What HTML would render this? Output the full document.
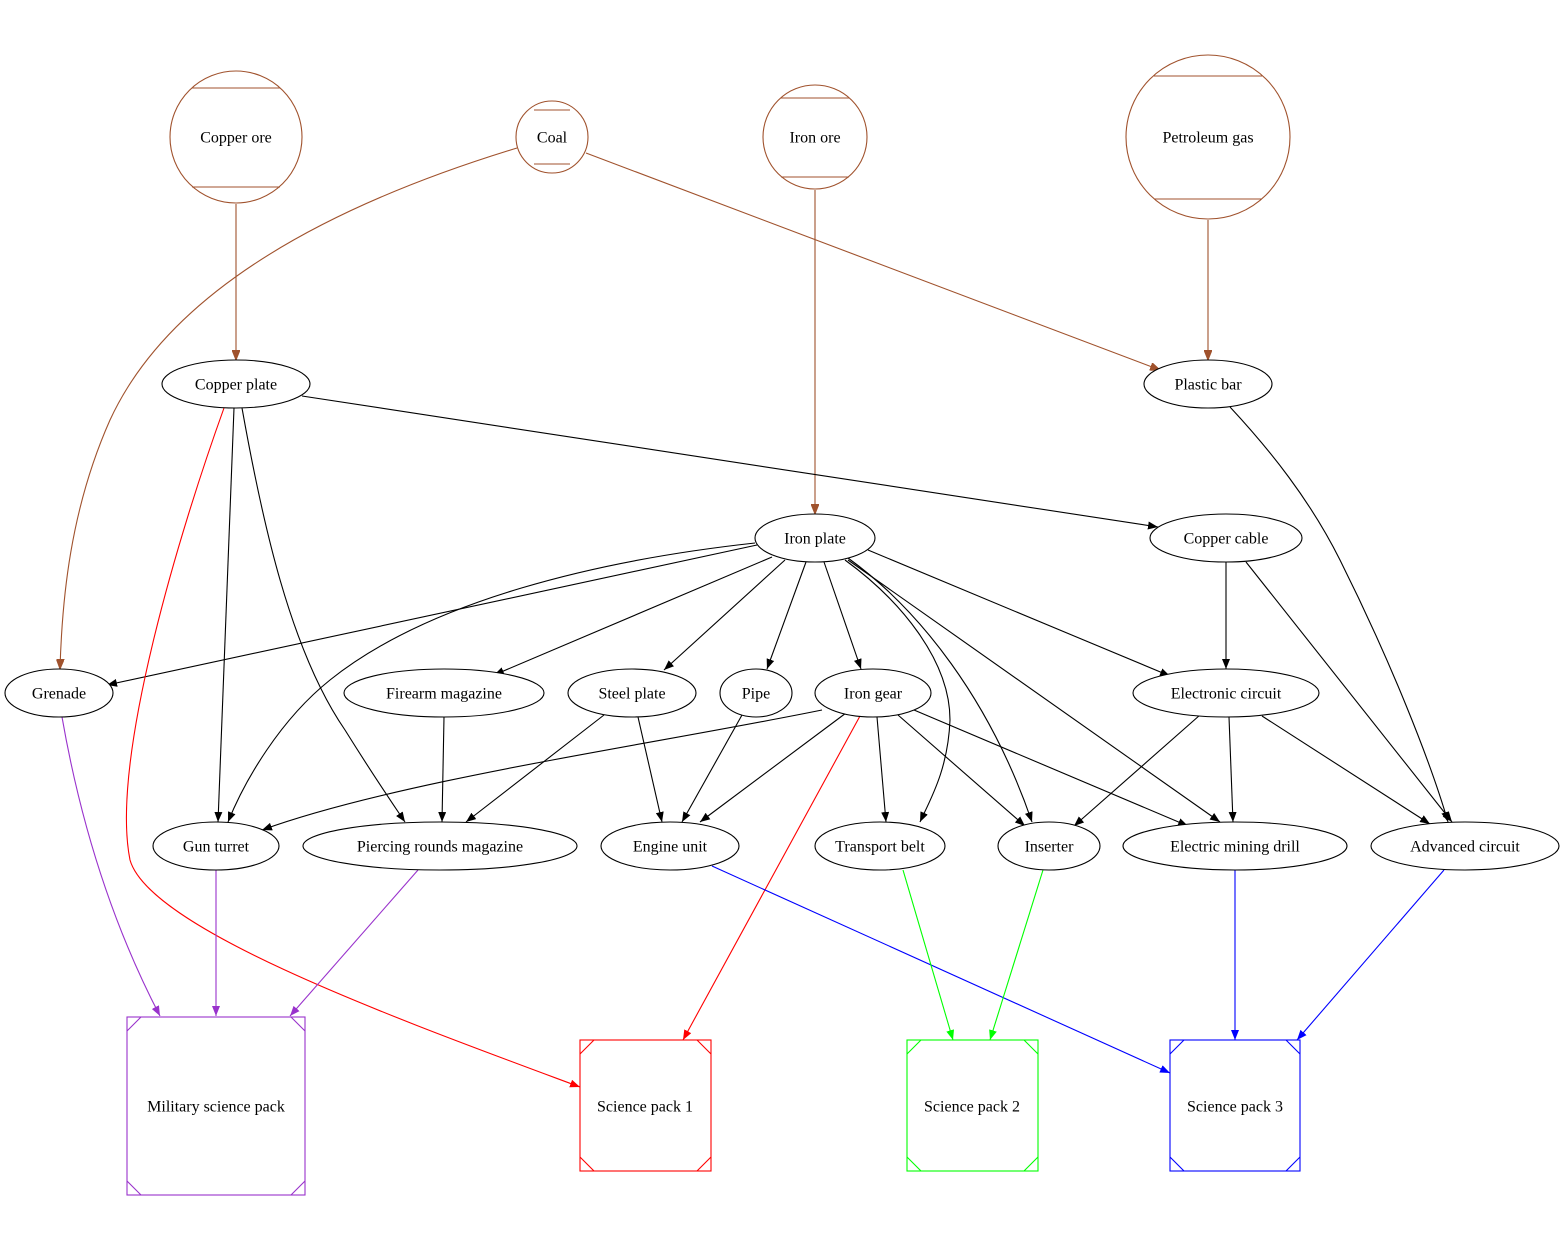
<!DOCTYPE html>
<html><head><meta charset="utf-8"><style>
html,body{margin:0;padding:0;background:#fff;}
svg{display:block;}
text{font-family:"Liberation Serif",serif;font-size:16px;text-anchor:middle;dominant-baseline:central;fill:#000;}
</style></head><body>
<svg width="1566" height="1255" viewBox="0 0 1566 1255" xmlns="http://www.w3.org/2000/svg">
<defs>
<marker id="ak" markerWidth="11" markerHeight="8" refX="10" refY="4" orient="auto" markerUnits="userSpaceOnUse"><path d="M0,0 L10,4 L0,8 z" fill="#000"/></marker>
<marker id="ab" markerWidth="11" markerHeight="8" refX="10" refY="4" orient="auto" markerUnits="userSpaceOnUse"><path d="M0,0 L10,4 L0,8 z" fill="#a0522d" stroke="#a0522d"/></marker>
<marker id="ar" markerWidth="11" markerHeight="8" refX="10" refY="4" orient="auto" markerUnits="userSpaceOnUse"><path d="M0,0 L10,4 L0,8 z" fill="#f00"/></marker>
<marker id="ap" markerWidth="11" markerHeight="8" refX="10" refY="4" orient="auto" markerUnits="userSpaceOnUse"><path d="M0,0 L10,4 L0,8 z" fill="#9932cc"/></marker>
<marker id="au" markerWidth="11" markerHeight="8" refX="10" refY="4" orient="auto" markerUnits="userSpaceOnUse"><path d="M0,0 L10,4 L0,8 z" fill="#00f"/></marker>
<marker id="ag" markerWidth="11" markerHeight="8" refX="10" refY="4" orient="auto" markerUnits="userSpaceOnUse"><path d="M0,0 L10,4 L0,8 z" fill="#0f0"/></marker>
</defs>
<g fill="none" stroke-width="1.1">
<g stroke="#a0522d" marker-end="url(#ab)">
<path d="M236,204 L236,360"/>
<path d="M517,148 C330,205 170,290 110,420 C70,510 62,600 60,669"/>
<path d="M586,153 L1160,370"/>
<path d="M815,190 L815,514"/>
<path d="M1208,220 L1208,360"/>
</g>
<g stroke="#000" marker-end="url(#ak)">
<path d="M302,396 L1158,527"/>
<path d="M234,408 L218,822"/>
<path d="M242,408 C262,520 290,650 345,730 C370,770 390,800 405,822"/>
<path d="M1230,407 C1270,450 1310,500 1340,560 C1390,660 1430,760 1448,822"/>
<path d="M757,545 L107,685"/>
<path d="M755,543 C600,560 430,600 330,680 C280,720 245,780 228,822"/>
<path d="M772,557 L494,675"/>
<path d="M785,560 L664,670"/>
<path d="M806,562 L767,669"/>
<path d="M824,562 L861,669"/>
<path d="M845,560 C900,600 950,660 950,720 C948,770 930,800 920,822"/>
<path d="M848,558 C920,610 990,700 1032,822"/>
<path d="M848,560 L1220,822"/>
<path d="M868,550 L1170,676"/>
<path d="M1226,562 L1226,669"/>
<path d="M1246,562 L1452,822"/>
<path d="M444,717 L442,822"/>
<path d="M604,715 L466,822"/>
<path d="M638,717 L662,822"/>
<path d="M742,715 L682,822"/>
<path d="M822,710 C650,745 400,780 262,830"/>
<path d="M846,713 L700,822"/>
<path d="M877,717 L886,822"/>
<path d="M898,715 L1025,826"/>
<path d="M914,710 L1188,826"/>
<path d="M1200,715 L1074,826"/>
<path d="M1229,717 L1233,822"/>
<path d="M1262,716 L1430,824"/>
</g>
<g stroke="#f00" marker-end="url(#ar)">
<path d="M224,408 C180,530 110,760 130,860 C150,930 400,1020 580,1087"/>
<path d="M860,716 L683,1040"/>
</g>
<g stroke="#9932cc" marker-end="url(#ap)">
<path d="M62,717 C80,820 110,920 160,1016"/>
<path d="M216,870 L216,1016"/>
<path d="M418,870 L290,1016"/>
</g>
<g stroke="#00f" marker-end="url(#au)">
<path d="M712,866 L1170,1073"/>
<path d="M1235,870 L1235,1040"/>
<path d="M1444,870 L1297,1040"/>
</g>
<g stroke="#0f0" marker-end="url(#ag)">
<path d="M903,870 L953,1040"/>
<path d="M1043,870 L990,1040"/>
</g>
</g>

<g fill="#fff" stroke="#a0522d" stroke-width="1.1">
<circle cx="236" cy="137" r="66"/>
<line x1="192" y1="88" x2="280" y2="88"/><line x1="192" y1="187" x2="280" y2="187"/>
<circle cx="552" cy="137" r="36"/>
<line x1="534" y1="110" x2="570" y2="110"/><line x1="534" y1="164" x2="570" y2="164"/>
<circle cx="815" cy="137" r="52"/>
<line x1="781" y1="98" x2="849" y2="98"/><line x1="781" y1="177" x2="849" y2="177"/>
<circle cx="1208" cy="137" r="82"/>
<line x1="1154" y1="76" x2="1262" y2="76"/><line x1="1154" y1="199" x2="1262" y2="199"/>
</g>
<text x="236" y="138">Copper ore</text>
<text x="552" y="138">Coal</text>
<text x="815" y="138">Iron ore</text>
<text x="1208" y="138">Petroleum gas</text>

<g fill="#fff" stroke="#000" stroke-width="1.1">
<ellipse cx="236" cy="384" rx="74" ry="24"/>
<ellipse cx="1208" cy="384" rx="64" ry="24"/>
<ellipse cx="815" cy="538" rx="60" ry="24"/>
<ellipse cx="1226" cy="538" rx="76" ry="24"/>
<ellipse cx="59" cy="693" rx="54" ry="24"/>
<ellipse cx="444" cy="693" rx="100" ry="24"/>
<ellipse cx="632" cy="693" rx="64" ry="24"/>
<ellipse cx="756" cy="693" rx="36" ry="24"/>
<ellipse cx="873" cy="693" rx="58" ry="24"/>
<ellipse cx="1226" cy="693" rx="93" ry="24"/>
<ellipse cx="216" cy="846" rx="63" ry="24"/>
<ellipse cx="440" cy="846" rx="137" ry="24"/>
<ellipse cx="670" cy="846" rx="69" ry="24"/>
<ellipse cx="880" cy="846" rx="65" ry="24"/>
<ellipse cx="1049" cy="846" rx="51" ry="24"/>
<ellipse cx="1235" cy="846" rx="112" ry="24"/>
<ellipse cx="1465" cy="846" rx="94" ry="24"/>
</g>
<text x="236" y="385">Copper plate</text>
<text x="1208" y="385">Plastic bar</text>
<text x="815" y="539">Iron plate</text>
<text x="1226" y="539">Copper cable</text>
<text x="59" y="694">Grenade</text>
<text x="444" y="694">Firearm magazine</text>
<text x="632" y="694">Steel plate</text>
<text x="756" y="694">Pipe</text>
<text x="873" y="694">Iron gear</text>
<text x="1226" y="694">Electronic circuit</text>
<text x="216" y="847">Gun turret</text>
<text x="440" y="847">Piercing rounds magazine</text>
<text x="670" y="847">Engine unit</text>
<text x="880" y="847">Transport belt</text>
<text x="1049" y="847">Inserter</text>
<text x="1235" y="847">Electric mining drill</text>
<text x="1465" y="847">Advanced circuit</text>

<g fill="#fff" stroke-width="1.1">
<g stroke="#9932cc">
<rect x="127" y="1017" width="178" height="178"/>
<path d="M127,1031 L141,1017 M291,1017 L305,1031 M127,1181 L141,1195 M291,1195 L305,1181"/>
</g>
<g stroke="#f00">
<rect x="580" y="1040" width="131" height="131"/>
<path d="M580,1054 L594,1040 M697,1040 L711,1054 M580,1157 L594,1171 M697,1171 L711,1157"/>
</g>
<g stroke="#0f0">
<rect x="907" y="1040" width="131" height="131"/>
<path d="M907,1054 L921,1040 M1024,1040 L1038,1054 M907,1157 L921,1171 M1024,1171 L1038,1157"/>
</g>
<g stroke="#00f">
<rect x="1170" y="1040" width="130" height="131"/>
<path d="M1170,1054 L1184,1040 M1286,1040 L1300,1054 M1170,1157 L1184,1171 M1286,1171 L1300,1157"/>
</g>
</g>
<text x="216" y="1107">Military science pack</text>
<text x="645" y="1107">Science pack 1</text>
<text x="972" y="1107">Science pack 2</text>
<text x="1235" y="1107">Science pack 3</text>
</svg>
</body></html>
